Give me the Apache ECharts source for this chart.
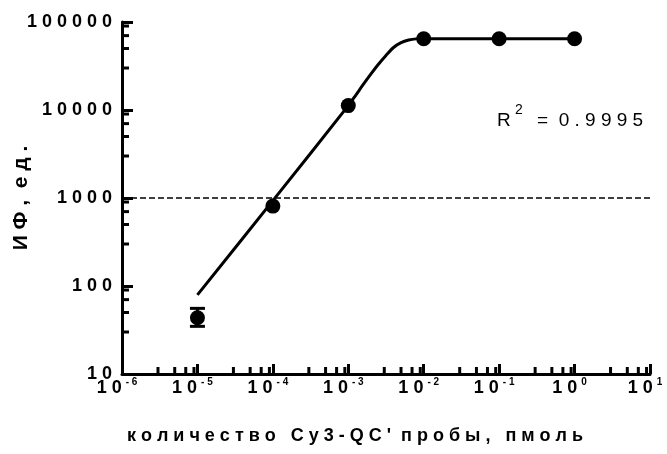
<!DOCTYPE html>
<html><head><meta charset="utf-8">
<script src="https://cdn.jsdelivr.net/npm/echarts@6/dist/echarts.min.js"></script>
<style>html,body{margin:0;padding:0;background:#fff}#c{width:667px;height:454px}</style>
</head><body><div id="c"></div>
<script>
// measured points
const amounts = [1e-5, 1e-4, 1e-3, 1e-2, 1e-1, 1];
const signal = [43.6, 809, 11220, 64600, 64600, 64600];
// error bar (only visible one, first point)
const errX = [1e-5];
const errLow = [34.8];
const errHigh = [55.7];
// fitted curve
const fitX = [1e-5, 1e-4, 1e-3, 1.26e-3, 1.58e-3, 2.0e-3, 2.51e-3, 3.16e-3, 3.98e-3, 5.01e-3, 6.31e-3, 7.94e-3, 1e-2, 1e-1, 1];
const fitY = [79.4, 933, 11220, 14800, 19500, 25700, 33100, 41700, 51300, 58200, 62400, 64300, 64600, 64600, 64600];
const refLine = 1000;
const xMin = 1e-6, xMax = 10, yMin = 10, yMax = 100000;
const minorMult = [3, 5, 7, 9];
const r2Text = '0.9995';

const xMinor = [];
for (let d = -6; d < 1; d++) minorMult.forEach(m => xMinor.push([m * Math.pow(10, d), yMin]));
const yMinor = [];
for (let d = 1; d < 5; d++) minorMult.forEach(m => yMinor.push([xMin, m * Math.pow(10, d)]));

const FONT = 'Liberation Sans';
const spaced = s => s.split('').join(' ');

const chart = echarts.init(document.getElementById('c'), null, {renderer: 'canvas'});
chart.setOption({
  animation: false,
  backgroundColor: '#fff',
  grid: {left: 122, right: 17, top: 22, bottom: 80},
  xAxis: {
    type: 'log', logBase: 10, min: xMin, max: xMax, splitNumber: 7,
    axisLine: {lineStyle: {color: '#000', width: 3}},
    axisTick: {inside: true, length: 10, lineStyle: {color: '#000', width: 3}},
    splitLine: {show: false},
    axisLabel: {
      margin: 3,
      padding: [0, 10, 0, 0],
      formatter: v => '{b|1 0}{s|' + spaced(String(Math.round(Math.log10(v)))) + '}',
      rich: {
        b: {fontFamily: FONT, fontWeight: 'bold', fontSize: 18, lineHeight: 22, color: '#000'},
        s: {fontFamily: FONT, fontWeight: 'bold', fontSize: 10, lineHeight: 11, verticalAlign: 'top', color: '#000', padding: [0, 0, 0, 4]}
      }
    }
  },
  yAxis: {
    type: 'log', logBase: 10, min: yMin, max: yMax, splitNumber: 4,
    axisLine: {lineStyle: {color: '#000', width: 3}},
    axisTick: {inside: true, length: 11, lineStyle: {color: '#000', width: 3}},
    splitLine: {show: false},
    axisLabel: {
      margin: 10, fontFamily: FONT, fontWeight: 'bold', fontSize: 18, color: '#000',
      formatter: v => spaced(String(Math.round(v)))
    }
  },
  graphic: [
    {type: 'text', x: 21, y: 198, rotation: Math.PI / 2,
     style: {text: 'И Ф ,  е д .', font: 'bold 21px "Liberation Sans"', fill: '#000', align: 'center', verticalAlign: 'middle'}},
    {type: 'text', x: 355, y: 436,
     style: {text: 'к о л и ч е с т в о   C y 3 - Q C \'  п р о б ы ,   п м о л ь', font: 'bold 18px "Liberation Sans"', fill: '#000', align: 'center', verticalAlign: 'middle'}},
    {type: 'text', x: 497, y: 121,
     style: {text: 'R', font: '19px "Liberation Sans"', fill: '#000', align: 'left', verticalAlign: 'middle'}},
    {type: 'text', x: 515, y: 110,
     style: {text: '2', font: '14px "Liberation Sans"', fill: '#000', align: 'left', verticalAlign: 'middle'}},
    {type: 'text', x: 537, y: 121,
     style: {text: '=  ' + spaced(r2Text), font: '19px "Liberation Sans"', fill: '#000', align: 'left', verticalAlign: 'middle'}}
  ],
  series: [
    {
      type: 'line', data: fitX.map((x, i) => [x, fitY[i]]),
      showSymbol: false, smooth: 0.3, lineStyle: {color: '#000', width: 3}, z: 3,
      markLine: {
        silent: true, symbol: 'none', label: {show: false},
        lineStyle: {color: '#000', width: 1.5, type: [6, 3]},
        data: [{yAxis: refLine}]
      }
    },
    {
      type: 'custom', z: 4,
      data: errX.map((x, i) => [x, errLow[i], errHigh[i]]),
      renderItem: (params, api) => {
        const lo = api.coord([api.value(0), api.value(1)]);
        const hi = api.coord([api.value(0), api.value(2)]);
        const w = 7.5, st = {stroke: '#000', lineWidth: 3};
        return {type: 'group', children: [
          {type: 'line', shape: {x1: lo[0], y1: lo[1], x2: hi[0], y2: hi[1]}, style: st},
          {type: 'line', shape: {x1: lo[0] - w, y1: lo[1], x2: lo[0] + w, y2: lo[1]}, style: st},
          {type: 'line', shape: {x1: hi[0] - w, y1: hi[1], x2: hi[0] + w, y2: hi[1]}, style: st}
        ]};
      }
    },
    {
      type: 'scatter', data: amounts.map((x, i) => [x, signal[i]]),
      symbol: 'circle', symbolSize: 15, itemStyle: {color: '#000', opacity: 1}, z: 5
    },
    {
      type: 'custom', z: 6, data: xMinor,
      renderItem: (params, api) => {
        const p = api.coord([api.value(0), api.value(1)]);
        return {type: 'line', shape: {x1: p[0], y1: p[1], x2: p[0], y2: p[1] - 7}, style: {stroke: '#000', lineWidth: 3}};
      }
    },
    {
      type: 'custom', z: 6, data: yMinor,
      renderItem: (params, api) => {
        const p = api.coord([api.value(0), api.value(1)]);
        return {type: 'line', shape: {x1: p[0], y1: p[1], x2: p[0] + 7, y2: p[1]}, style: {stroke: '#000', lineWidth: 3}};
      }
    }
  ]
});
</script>
</body></html>
